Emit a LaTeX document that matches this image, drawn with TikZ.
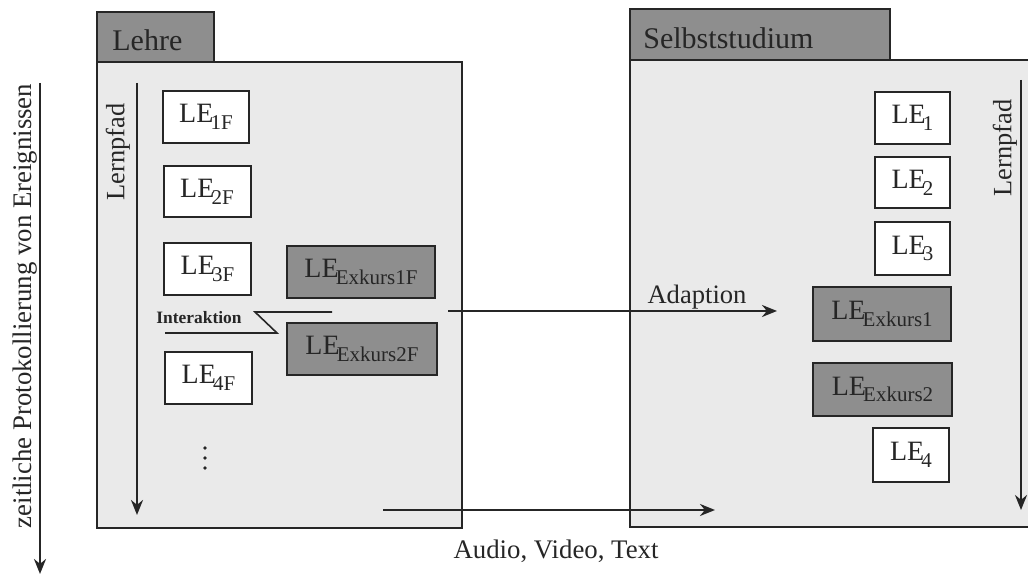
\documentclass[tikz,border=0pt]{standalone}
\usepackage{fontspec}
\setmainfont{Liberation Serif}
\usetikzlibrary{arrows.meta}

\definecolor{ink}{HTML}{262626}
\definecolor{panel}{HTML}{EAEAEA}
\definecolor{shade}{HTML}{8E8E8E}

% learning unit label with lowered index
\newcommand{\LEsub}[1]{LE\kern-1.4pt\raisebox{-3.4pt}{\fontsize{10.5pt}{12pt}\selectfont #1}}

\tikzset{
  frame/.style={draw=ink, line width=1pt, fill=panel},
  tabbox/.style={draw=ink, line width=1pt, fill=shade},
  lebox/.style={draw=ink, line width=1pt, fill=white, inner sep=0pt,
                font=\fontsize{14pt}{16pt}\selectfont, text=ink},
  exbox/.style={lebox, fill=shade},
  flow/.style={draw=ink, line width=1.2pt, -{Stealth[length=7.5pt,width=6pt]}},
  lbl/.style={text=ink, inner sep=0pt, font=\fontsize{13.4pt}{15pt}\selectfont},
  dot/.style={circle, fill=ink, inner sep=0pt, minimum size=1.8pt},
}

\begin{document}
\begin{tikzpicture}[x=0.5pt,y=-0.5pt]
  \useasboundingbox[fill=white] (0,0) rectangle (1028,576);

  % panels with their header tabs
  \begin{scope}
    \clip (0,0) rectangle (1028,576);
    \draw[frame] (97,62) rectangle (462,528);
    \draw[tabbox] (97,12) rectangle (214,62);
    \draw[frame] (630,60) rectangle (1040,527);
    \draw[tabbox] (630,9) rectangle (890,60);
  \end{scope}
  \node[lbl, anchor=west, font=\fontsize{15pt}{17pt}\selectfont] (lehre) at (112,40) {Lehre};
  \node[lbl, anchor=west, font=\fontsize{15pt}{17pt}\selectfont] (selbst) at (643,38) {Selbststudium};

  % time axis on the far left
  \coordinate (tA) at (40,83);
  \coordinate (tB) at (40,574);
  \draw[flow] (tA) -- (tB);
  \node[lbl, rotate=90] (zeit) at (25,306) {zeitliche Protokollierung von Ereignissen};

  % learning path, teaching side
  \coordinate (pA) at (137,83);
  \coordinate (pB) at (137,515);
  \draw[flow] (pA) -- (pB);
  \node[lbl, rotate=90, font=\fontsize{13.2pt}{15pt}\selectfont] (pfadL) at (118,152) {Lernpfad};

  % learning path, self-study side
  \coordinate (qA) at (1021,80);
  \coordinate (qB) at (1021,510);
  \draw[flow] (qA) -- (qB);
  \node[lbl, rotate=90, font=\fontsize{13.2pt}{15pt}\selectfont] (pfadR) at (1005,148) {Lernpfad};

  % teaching units
  \node[lebox, minimum width=43pt, minimum height=26pt] (le1f) at (206,117) {\LEsub{1F}};
  \node[lebox, minimum width=43.5pt, minimum height=25.5pt] (le2f) at (207,191.5) {\LEsub{2F}};
  \node[lebox, minimum width=43.5pt, minimum height=26pt] (le3f) at (207.5,269) {\LEsub{3F}};
  \node[lebox, minimum width=43.5pt, minimum height=26pt] (le4f) at (208.5,378) {\LEsub{4F}};
  \node[exbox, minimum width=74pt, minimum height=26pt] (ex1f) at (361,272) {\LEsub{Exkurs1F}};
  \node[exbox, minimum width=75pt, minimum height=26pt] (ex2f) at (362,349) {\LEsub{Exkurs2F}};

  % further units (ellipsis)
  \node[dot] (d1) at (205,448) {};
  \node[dot] (d2) at (205,458) {};
  \node[dot] (d3) at (205,468) {};

  % interaction callout
  \node[text=ink, inner sep=0pt, font=\bfseries\fontsize{8.7pt}{10pt}\selectfont] (inter) at (199,318) {Interaktion};
  \coordinate (iA) at (332,312);
  \coordinate (iB) at (255,312);
  \coordinate (iC) at (277,333);
  \coordinate (iD) at (165,333);
  \draw[ink, line width=0.8pt] (iA) -- (iB) -- (iC) -- (iD);

  % self-study units
  \node[lebox, minimum width=37.5pt, minimum height=26pt] (le1) at (912.5,118) {\LEsub{1}};
  \node[lebox, minimum width=37.5pt, minimum height=25.5pt] (le2) at (912.5,182.5) {\LEsub{2}};
  \node[lebox, minimum width=37.5pt, minimum height=26.5pt] (le3) at (912.5,248.5) {\LEsub{3}};
  \node[exbox, minimum width=69pt, minimum height=27pt] (ex1) at (882,314) {\LEsub{Exkurs1}};
  \node[exbox, minimum width=69.5pt, minimum height=26.5pt] (ex2) at (882.5,389.5) {\LEsub{Exkurs2}};
  \node[lebox, minimum width=38pt, minimum height=27pt] (le4) at (911,455) {\LEsub{4}};

  % transfer between the two panels
  \coordinate (adA) at (448,311);
  \coordinate (adB) at (777,311);
  \draw[flow] (adA) -- (adB);
  \node[lbl, font=\fontsize{13.3pt}{15pt}\selectfont] (adapt) at (697,297) {Adaption};

  \coordinate (avA) at (383,510);
  \coordinate (avB) at (715,510);
  \draw[flow] (avA) -- (avB);
  \node[lbl] (media) at (556,551) {Audio, Video, Text};
\end{tikzpicture}
\end{document}
